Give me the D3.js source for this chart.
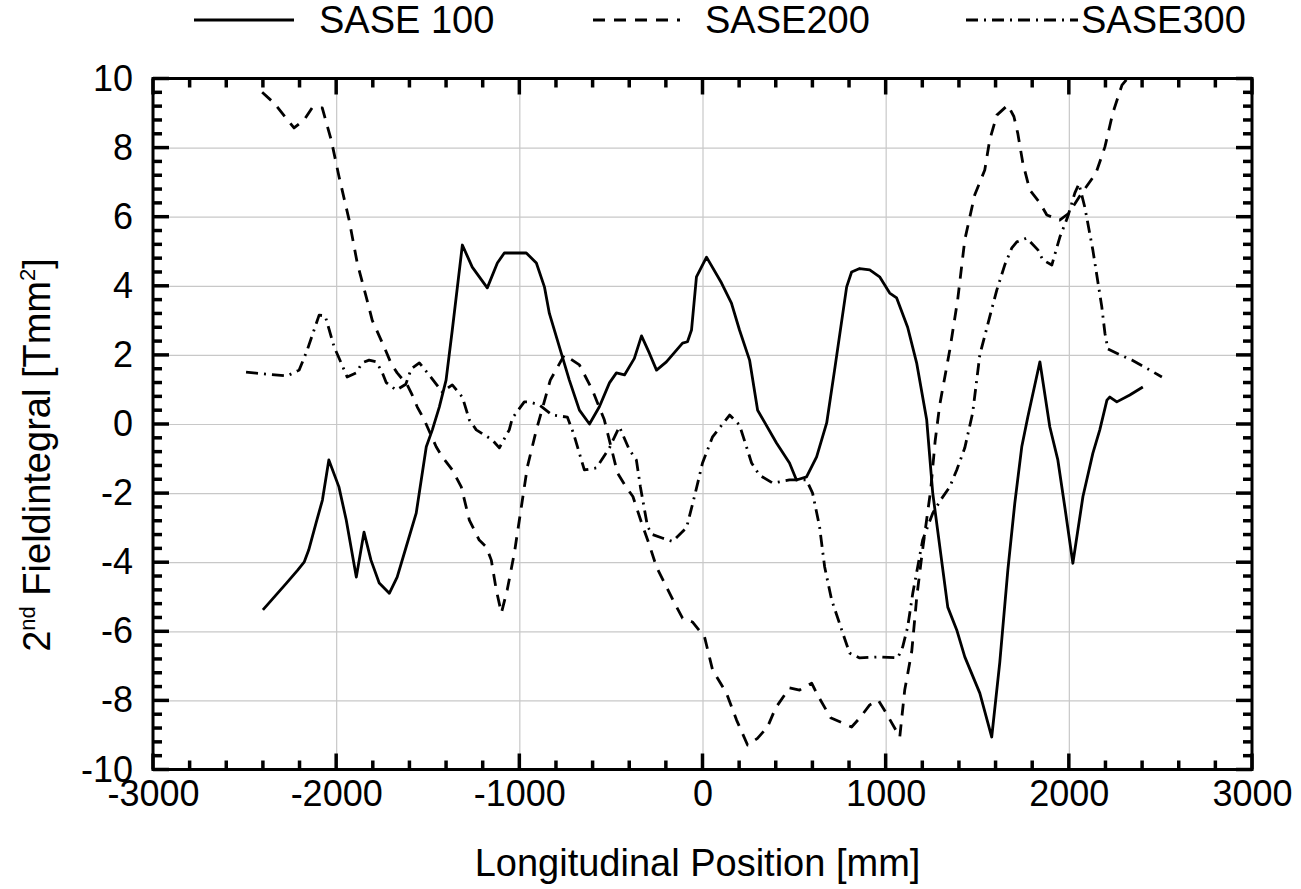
<!DOCTYPE html>
<html>
<head>
<script src="https://d3js.org/d3.v7.min.js"></script>
<style>
    body { margin: 0; background: #fff; font-family: "Liberation Sans", Arial, sans-serif; }
    .grid line { stroke: #c8c8c8; stroke-width: 1.2; }
    .grid path { display: none; }
    .ax path { display: none; }
    .ax line { display: none; }
    .ax text { font-size: 36px; fill: #000; font-family: "Liberation Sans", Arial, sans-serif; }
    .series { fill: none; stroke: #000; stroke-width: 2.8; stroke-linejoin: round; }
    .tk { stroke: #000; stroke-width: 3.5; }
</style>
</head>
<body>
<div id="chart"></div>
<script>
// data: [position mm, field integral Tmm^2]
var sase100 = [[-2400,-5.38],[-2270,-4.6],[-2210,-4.23],[-2175,-4.0],[-2150,-3.65],[-2110,-2.87],[-2075,-2.2],[-2040,-1.04],
    [-1985,-1.82],[-1945,-2.78],[-1890,-4.43],[-1848,-3.13],[-1810,-3.94],[-1765,-4.6],[-1710,-4.9],[-1667,-4.43],
    [-1618,-3.56],[-1563,-2.58],[-1508,-0.66],[-1475,-0.17],[-1437,0.49],[-1400,1.27],[-1366,2.72],[-1311,5.18],
    [-1257,4.54],[-1175,3.94],[-1120,4.66],[-1082,4.95],[-962,4.95],[-907,4.66],[-863,3.97],[-836,3.2],[-727,1.27],
    [-672,0.4],[-617,0.0],[-563,0.5],[-508,1.19],[-470,1.48],[-426,1.42],[-372,1.9],[-333,2.55],[-290,2.05],
    [-251,1.56],[-197,1.8],[-109,2.34],[-82,2.38],[-60,2.72],[-33,4.26],[22,4.83],[104,4.08],[158,3.5],[202,2.72],
    [257,1.85],[301,0.4],[404,-0.55],[475,-1.13],[513,-1.62],[568,-1.53],[623,-0.95],[678,0.03],[721,1.56],
    [787,3.97],[814,4.4],[858,4.5],[913,4.46],[967,4.26],[1022,3.79],[1060,3.65],[1120,2.8],[1169,1.77],
    [1224,0.12],[1257,-2.0],[1339,-5.3],[1388,-5.96],[1432,-6.74],[1514,-7.79],[1579,-9.06],[1623,-6.9],
    [1667,-4.23],[1705,-2.29],[1743,-0.66],[1776,0.2],[1842,1.8],[1896,-0.08],[1940,-1.04],[1978,-2.4],
    [2022,-4.03],[2077,-2.1],[2131,-0.85],[2169,-0.17],[2208,0.69],[2224,0.78],[2262,0.64],[2333,0.84],[2404,1.07]];

var sase200 = [[-2404,9.6],[-2339,9.29],[-2230,8.57],[-2175,8.8],[-2131,9.15],[-2076,9.15],[-2027,8.22],[-1984,7.15],
    [-1929,5.9],[-1885,4.66],[-1836,3.68],[-1803,3.0],[-1738,2.23],[-1700,1.75],[-1667,1.48],[-1612,1.13],
    [-1585,0.84],[-1557,0.49],[-1519,0.12],[-1454,-0.66],[-1421,-0.95],[-1366,-1.33],[-1317,-1.82],[-1273,-2.78],
    [-1219,-3.36],[-1180,-3.56],[-1153,-3.94],[-1126,-4.8],[-1098,-5.47],[-1066,-4.8],[-1027,-3.73],[-989,-2.4],
    [-956,-1.24],[-907,-0.17],[-831,1.27],[-754,2.0],[-672,1.71],[-601,0.98],[-536,0.12],[-464,-1.42],[-420,-1.8],
    [-380,-2.1],[-330,-2.9],[-290,-3.5],[-251,-4.14],[-153,-5.18],[-109,-5.62],[-55,-5.73],[11,-6.16],[55,-7.12],
    [131,-7.79],[186,-8.57],[246,-9.29],[300,-9.1],[355,-8.77],[399,-8.22],[475,-7.64],[530,-7.7],[596,-7.5],
    [628,-7.84],[699,-8.5],[814,-8.77],[860,-8.5],[913,-8.13],[960,-8.0],[1000,-8.34],[1077,-9.06],[1104,-7.7],
    [1142,-6.6],[1170,-5.0],[1200,-3.7],[1246,-1.9],[1270,-0.5],[1295,0.55],[1350,2.14],[1393,3.59],[1432,5.33],
    [1486,6.63],[1541,7.35],[1568,8.22],[1607,8.94],[1667,9.23],[1700,8.9],[1721,8.42],[1749,7.55],[1787,6.77],
    [1842,6.4],[1880,6.05],[1950,5.9],[2000,6.1],[2060,6.6],[2148,7.26],[2197,8.02],[2240,9.0],[2290,9.81],[2320,10.0]];

var sase300 = [[-2492,1.5],[-2268,1.39],[-2202,1.56],[-2158,2.14],[-2093,3.15],[-2060,3.13],[-2011,2.23],[-1973,1.77],
    [-1940,1.36],[-1891,1.48],[-1858,1.77],[-1820,1.85],[-1781,1.8],[-1749,1.5],[-1727,1.2],[-1672,0.98],
    [-1620,1.15],[-1590,1.6],[-1546,1.77],[-1492,1.42],[-1421,0.93],[-1366,1.13],[-1311,0.78],[-1273,0.12],
    [-1235,-0.17],[-1148,-0.46],[-1109,-0.69],[-1055,-0.17],[-1038,0.17],[-973,0.64],[-945,0.64],[-891,0.55],
    [-820,0.26],[-738,0.2],[-705,-0.26],[-645,-1.33],[-579,-1.27],[-508,-0.69],[-454,-0.08],[-399,-0.75],
    [-361,-1.04],[-339,-1.82],[-300,-2.97],[-273,-3.2],[-220,-3.3],[-164,-3.4],[-87,-3.0],[-44,-2.1],[0,-1.13],
    [55,-0.37],[148,0.26],[202,-0.03],[240,-0.66],[268,-1.13],[311,-1.48],[383,-1.71],[475,-1.62],[568,-1.62],
    [601,-2.0],[639,-2.97],[667,-4.14],[705,-5.09],[760,-5.96],[803,-6.63],[858,-6.77],[967,-6.74],[1066,-6.77],
    [1093,-6.45],[1120,-5.88],[1148,-4.9],[1169,-4.3],[1202,-3.36],[1257,-2.58],[1300,-2.2],[1350,-1.82],
    [1388,-1.33],[1432,-0.69],[1475,0.32],[1514,2.0],[1568,3.1],[1607,3.88],[1650,4.6],[1689,5.1],[1716,5.27],
    [1770,5.38],[1831,5.04],[1858,4.75],[1907,4.6],[1951,5.41],[1994,6.0],[2033,6.69],[2055,6.95],[2087,6.28],
    [2131,5.04],[2180,3.39],[2197,2.63],[2213,2.17],[2279,2.0],[2344,1.85],[2443,1.56],[2508,1.36]];

var seriesNames = ["SASE 100", "SASE200", "SASE300"];
var xTicks = [-3000, -2000, -1000, 0, 1000, 2000, 3000];
var yTicks = [-10, -8, -6, -4, -2, 0, 2, 4, 6, 8, 10];
var xMinor = d3.range(-3000, 3001, 200);
var yMinor = d3.range(-10, 10.01, 0.4);

var W = 1301, H = 889;
var plotLeft = 153, plotRight = 1252, plotTop = 78.5, plotBottom = 769.5;

var x = d3.scaleLinear().domain([-3000, 3000]).range([plotLeft, plotRight]);
var y = d3.scaleLinear().domain([-10, 10]).range([plotBottom, plotTop]);

var svg = d3.select("#chart").append("svg")
    .attr("width", W)
    .attr("height", H);

// grid
svg.append("g").attr("class", "grid")
    .attr("transform", "translate(0," + plotBottom + ")")
    .call(d3.axisBottom(x).tickValues(xTicks).tickSize(-(plotBottom - plotTop)).tickFormat(""));
svg.append("g").attr("class", "grid")
    .attr("transform", "translate(" + plotLeft + ",0)")
    .call(d3.axisLeft(y).tickValues(yTicks).tickSize(-(plotRight - plotLeft)).tickFormat(""));

// lines
var line = d3.line()
    .x(function(d) { return x(d[0]); })
    .y(function(d) { return y(d[1]); });

var dashes = [null, "12,9", "12,6,2,6"];
[sase100, sase200, sase300].forEach(function(s, i) {
    svg.append("path")
        .datum(s)
        .attr("class", "series")
        .attr("stroke-dasharray", dashes[i])
        .attr("d", line);
});

// frame
svg.append("rect")
    .attr("x", plotLeft).attr("y", plotTop)
    .attr("width", plotRight - plotLeft).attr("height", plotBottom - plotTop)
    .attr("fill", "none").attr("stroke", "#000").attr("stroke-width", 3);

// inward ticks on all four sides
var ticks = svg.append("g");
function isMajorX(v) { return v % 1000 === 0; }
function isMajorY(v) { return Math.abs(v / 2 - Math.round(v / 2)) < 1e-6; }

ticks.selectAll(".tx-b").data(xMinor).enter().append("line")
    .attr("class", "tk")
    .attr("x1", function(d) { return x(d); }).attr("x2", function(d) { return x(d); })
    .attr("y1", plotBottom)
    .attr("y2", function(d) { return plotBottom - (isMajorX(d) ? 16 : 9); });
ticks.selectAll(".tx-t").data(xMinor).enter().append("line")
    .attr("class", "tk")
    .attr("x1", function(d) { return x(d); }).attr("x2", function(d) { return x(d); })
    .attr("y1", plotTop)
    .attr("y2", function(d) { return plotTop + (isMajorX(d) ? 16 : 9); });
ticks.selectAll(".ty-l").data(yMinor).enter().append("line")
    .attr("class", "tk")
    .attr("y1", function(d) { return y(d); }).attr("y2", function(d) { return y(d); })
    .attr("x1", plotLeft)
    .attr("x2", function(d) { return plotLeft + (isMajorY(d) ? 16 : 9); });
ticks.selectAll(".ty-r").data(yMinor).enter().append("line")
    .attr("class", "tk")
    .attr("y1", function(d) { return y(d); }).attr("y2", function(d) { return y(d); })
    .attr("x1", plotRight)
    .attr("x2", function(d) { return plotRight - (isMajorY(d) ? 16 : 9); });

// tick labels
function fmt(d) { return String(d); }
svg.append("g").attr("class", "ax")
    .attr("transform", "translate(0," + plotBottom + ")")
    .call(d3.axisBottom(x).tickValues(xTicks).tickSize(0).tickPadding(11).tickFormat(fmt));
svg.append("g").attr("class", "ax")
    .attr("transform", "translate(" + plotLeft + ",0)")
    .call(d3.axisLeft(y).tickValues(yTicks).tickSize(0).tickPadding(20).tickFormat(fmt));

// axis titles
svg.append("text")
    .attr("x", (plotLeft + plotRight) / 2 - 5)
    .attr("y", 876)
    .attr("text-anchor", "middle")
    .style("font-size", "38px")
    .text("Longitudinal Position [mm]");

var yt = svg.append("text")
    .attr("transform", "translate(50,455) rotate(-90)")
    .attr("text-anchor", "middle")
    .style("font-size", "38px");
yt.append("tspan").text("2");
yt.append("tspan").attr("dy", -15).style("font-size", "22px").text("nd");
yt.append("tspan").attr("dy", 15).text("  Fieldintegral [Tmm");
yt.append("tspan").attr("dy", -15).style("font-size", "22px").text("2");
yt.append("tspan").attr("dy", 15).text("]");

// legend
var legendX = [194, 593, 966];
var legendW = [100, 87, 112];
var legendTextX = [319, 705, 1081];
seriesNames.forEach(function(name, i) {
    svg.append("line")
        .attr("x1", legendX[i]).attr("x2", legendX[i] + legendW[i])
        .attr("y1", 20).attr("y2", 20)
        .attr("stroke", "#000").attr("stroke-width", 2.8)
        .attr("stroke-dasharray", dashes[i]);
    svg.append("text")
        .attr("x", legendTextX[i])
        .attr("y", 33)
        .style("font-size", "38px")
        .text(name);
});
</script>
</body>
</html>
